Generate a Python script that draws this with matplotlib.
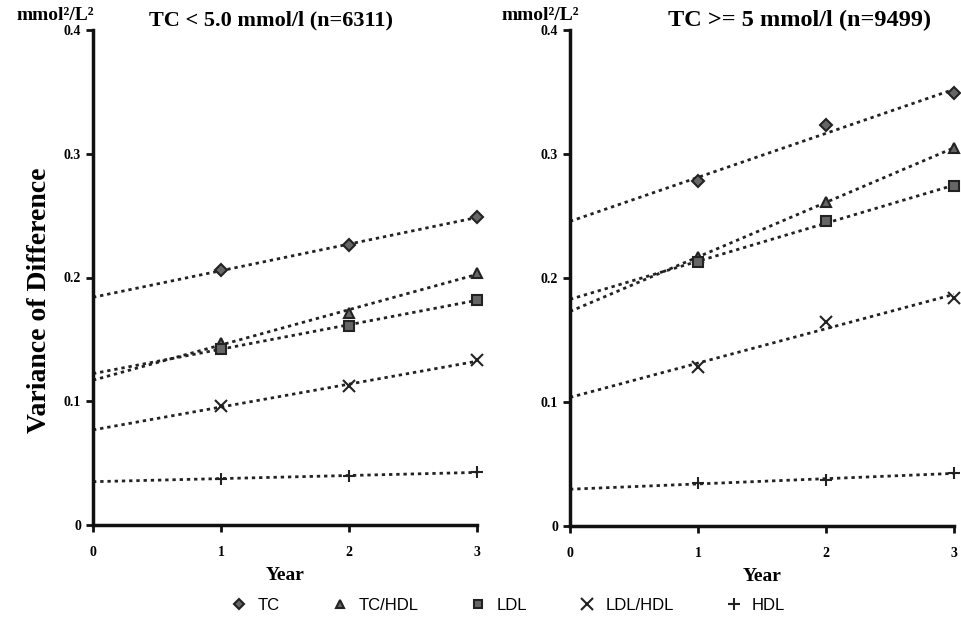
import numpy as np
import matplotlib
matplotlib.use("Agg")
import matplotlib.pyplot as plt
from matplotlib.lines import Line2D

# Data (variance of difference, mmol2/L2)
years = [1, 2, 3]
series_names = ["TC", "TC/HDL", "LDL", "LDL/HDL", "HDL"]

low_tc = [0.206, 0.226, 0.249]
low_tc_hdl = [0.147, 0.171, 0.204]
low_ldl = [0.1425, 0.161, 0.182]
low_ldl_hdl = [0.096, 0.1125, 0.133]
low_hdl = [0.0375, 0.040, 0.0425]

high_tc = [0.278, 0.323, 0.349]
high_tc_hdl = [0.217, 0.261, 0.305]
high_ldl = [0.2126, 0.246, 0.274]
high_ldl_hdl = [0.1286, 0.1647, 0.184]
high_hdl = [0.0345, 0.037, 0.043]

titles = ["TC < 5.0 mmol/l (n=6311)", "TC >= 5 mmol/l (n=9499)"]
y_ticks = [0, 0.1, 0.2, 0.3, 0.4]
x_ticks = [0, 1, 2, 3]

# Marker style per series
markers = ["D", "^", "s", "x", "+"]
sizes = [6, 7, 7, 9, 9]
serif = "Liberation Serif"

fig = plt.figure(figsize=(9.62, 6.29), dpi=100)
ax_left = fig.add_axes([93 / 962, 104 / 629, 384 / 962, 495 / 629])
ax_right = fig.add_axes([570 / 962, 103 / 629, 384 / 962, 496 / 629])

panels = [
    (ax_left, [low_tc, low_tc_hdl, low_ldl, low_ldl_hdl, low_hdl]),
    (ax_right, [high_tc, high_tc_hdl, high_ldl, high_ldl_hdl, high_hdl]),
]

for ax, values in panels:
    # Linear trend lines from year 0, markers at measured years
    for vals, mk, ms in zip(values, markers, sizes):
        slope, intercept = np.polyfit(years, vals, 1)
        xs = np.array([x_ticks[0], x_ticks[-1]])
        ax.plot(xs, slope * xs + intercept, linestyle=(0, (1.2, 1.4)),
                color="#222222", linewidth=2.0, zorder=2)
        ax.plot(years, vals, linestyle="none", marker=mk, markersize=ms,
                markerfacecolor="#666666", markeredgecolor="#222222",
                markeredgewidth=1.5, clip_on=False, zorder=3)

    ax.set_xlim(0, 3)
    ax.set_ylim(0, 0.4)
    ax.set_xticks(x_ticks)
    ax.set_yticks(y_ticks)
    ax.set_xticklabels([str(t) for t in x_ticks])
    ax.set_yticklabels(["0", "0.1", "0.2", "0.3", "0.4"])
    for side in ["top", "right"]:
        ax.spines[side].set_visible(False)
    for side in ["left", "bottom"]:
        ax.spines[side].set_linewidth(2.5)
        ax.spines[side].set_color("#111111")
    ax.tick_params(axis="both", direction="out", length=5, width=2, color="#111111")
    ax.tick_params(axis="x", pad=10)
    for lbl in ax.get_xticklabels() + ax.get_yticklabels():
        lbl.set_fontfamily(serif)
        lbl.set_fontweight("bold")
        lbl.set_fontsize(10)
    ax.set_xlabel("Year", fontfamily=serif, fontweight="bold", fontsize=14, labelpad=6)

# Titles and units
fig.text(271 / 962, 1 - 20 / 629, titles[0], ha="center", va="center",
         fontfamily=serif, fontweight="bold", fontsize=16)
fig.text(800 / 962, 1 - 20 / 629, titles[1], ha="center", va="center",
         fontfamily=serif, fontweight="bold", fontsize=17.5)
fig.text(55 / 962, 1 - 15 / 629, "mmol²/L²", ha="center", va="center",
         fontfamily=serif, fontweight="bold", fontsize=14)
fig.text(540 / 962, 1 - 15 / 629, "mmol²/L²", ha="center", va="center",
         fontfamily=serif, fontweight="bold", fontsize=14)
fig.text(40 / 962, 1 - 300 / 629, "Variance of Difference", ha="center", va="center",
         rotation=90, fontfamily=serif, fontweight="bold", fontsize=20)

# Legend with markers only
handles = [
    Line2D([], [], linestyle="none", marker=mk, markersize=ms * 0.9,
           markerfacecolor="#666666", markeredgecolor="#222222", markeredgewidth=1.5)
    for mk, ms in zip(markers, sizes)
]
fig.legend(handles, series_names, loc="center", bbox_to_anchor=(504 / 962, 1 - 605 / 629),
           ncol=5, frameon=False, handletextpad=0.1, columnspacing=2.6,
           prop={"family": "Liberation Sans", "size": 12})

fig.savefig("out.png", dpi=100)
